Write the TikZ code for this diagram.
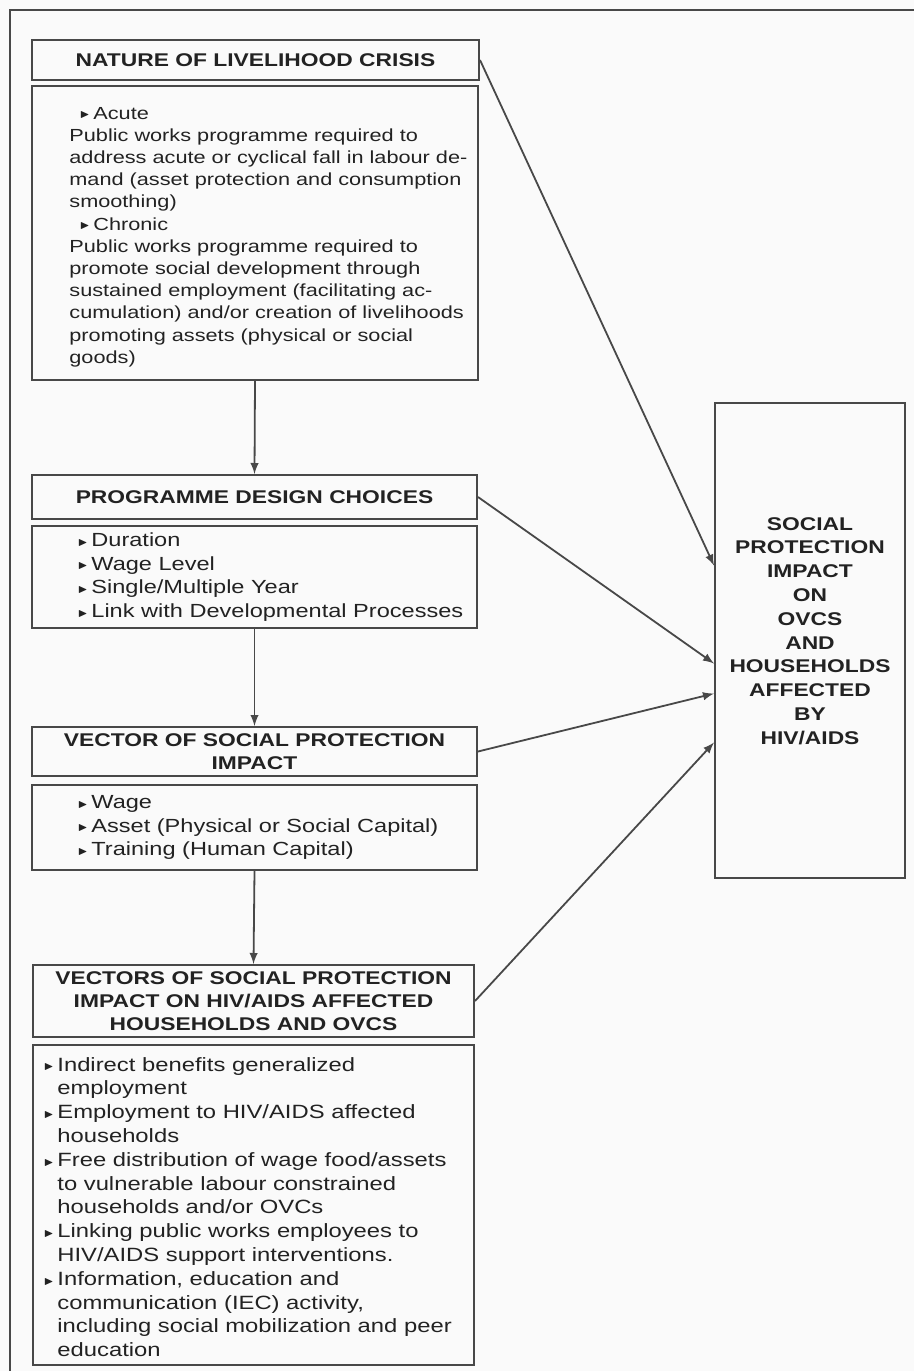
\documentclass[tikz,border=0pt]{standalone}
\usepackage{amssymb}
\usepackage{fontspec}
\setmainfont[FakeStretch=1.24]{Liberation Sans}
\usetikzlibrary{arrows}
\usetikzlibrary{calc}
\definecolor{ink}{HTML}{222222}
\definecolor{rule}{HTML}{484848}
\definecolor{paper}{HTML}{FAFAFA}
\newcommand{\tri}{\makebox[7pt][l]{\raisebox{0.6pt}{\tiny$\blacktriangleright$}}}
\newcommand{\ind}{\hspace*{7pt}}

\begin{document}
\begin{tikzpicture}[x=0.5pt, y=-0.5pt,
  hdr/.style={draw=rule, line width=1pt, text=ink, inner sep=0pt, align=center,
    font=\bfseries\fontsize{9.2}{11.5}\selectfont},
  panel/.style={draw=rule, line width=1pt, inner sep=0pt},
  bodytext/.style={text=ink, inner sep=0pt, align=left, anchor=west},
  link/.style={draw=rule, line width=0.9pt, -latex}]
\useasboundingbox (0,0) rectangle (914,1371);
\fill[paper] (0,0) rectangle (914,1371);
\draw[rule, line width=1pt] (914,10) -- (10,10) -- (10,1371);

\node[hdr, minimum width=223.5pt, minimum height=20pt] (crisis) at (255.5,60)
  {NATURE OF LIVELIHOOD CRISIS};
\node[panel, minimum width=223pt, minimum height=147pt] (crisisbody) at (255,233) {};
\node[bodytext, font=\fontsize{8.75}{11.1}\selectfont] (crisistext)
  at ([xshift=19pt, yshift=-2pt]crisisbody.west)
  {\hspace*{5pt}\tri Acute\\
   Public works programme required to\\
   address acute or cyclical fall in labour de-\\
   mand (asset protection and consumption\\
   smoothing)\\
   \hspace*{5pt}\tri Chronic\\
   Public works programme required to\\
   promote social development through\\
   sustained employment (facilitating ac-\\
   cumulation) and/or creation of livelihoods\\
   promoting assets (physical or social\\
   goods)};

\node[hdr, minimum width=222.5pt, minimum height=22pt] (design) at (254.5,497)
  {PROGRAMME DESIGN CHOICES};
\node[panel, minimum width=222.5pt, minimum height=51pt] (designbody) at (254.5,577) {};
\node[bodytext, font=\fontsize{9.5}{11.8}\selectfont] (designtext)
  at ([xshift=23pt]designbody.west)
  {\tri Duration\\
   \tri Wage Level\\
   \tri Single/Multiple Year\\
   \tri Link with Developmental Processes};

\node[hdr, minimum width=222.5pt, minimum height=24.5pt] (vector) at (254.5,751.5)
  {VECTOR OF SOCIAL PROTECTION\\IMPACT};
\node[panel, minimum width=222.5pt, minimum height=42.5pt] (vectorbody) at (254.5,827.5) {};
\node[bodytext, font=\fontsize{9.5}{11.9}\selectfont] (vectortext)
  at ([xshift=23pt]vectorbody.west)
  {\tri Wage\\
   \tri Asset (Physical or Social Capital)\\
   \tri Training (Human Capital)};

\node[hdr, minimum width=220.5pt, minimum height=36pt] (vectors) at (253.5,1001)
  {VECTORS OF SOCIAL PROTECTION\\IMPACT ON HIV/AIDS AFFECTED\\HOUSEHOLDS AND OVCS};
\node[panel, minimum width=220.5pt, minimum height=160pt] (vectorsbody) at (253.5,1205) {};
\node[bodytext, font=\fontsize{9.6}{11.9}\selectfont] (vectorstext)
  at ([xshift=5.5pt, yshift=-1pt]vectorsbody.west)
  {\tri Indirect benefits generalized\\
   \ind employment\\
   \tri Employment to HIV/AIDS affected\\
   \ind households\\
   \tri Free distribution of wage food/assets\\
   \ind to vulnerable labour constrained\\
   \ind households and/or OVCs\\
   \tri Linking public works employees to\\
   \ind HIV/AIDS support interventions.\\
   \tri Information, education and\\
   \ind communication (IEC) activity,\\
   \ind including social mobilization and peer\\
   \ind education};

\node[panel, minimum width=95pt, minimum height=237.5pt] (impact) at (810,640.5) {};
\node[hdr, draw=none, font=\bfseries\fontsize{9.2}{11.9}\selectfont] (impacttext) at (810,631)
  {SOCIAL\\PROTECTION\\IMPACT\\ON\\OVCS\\AND\\HOUSEHOLDS\\AFFECTED\\BY\\HIV/AIDS};

\draw[link] (crisisbody.south) -- (design.north);
\draw[link] (designbody.south) -- (vector.north);
\draw[link] (vectorbody.south) -- (vectors.north);

\draw[link] (crisis.east) -- ($(impact.west)+(0,-75)$);
\draw[link] (design.east) -- ($(impact.west)+(0,23)$);
\draw[link] (vector.east) -- ($(impact.west)+(0,53)$);
\draw[link] (vectors.east) -- ($(impact.west)+(0,102)$);
\end{tikzpicture}
\end{document}
